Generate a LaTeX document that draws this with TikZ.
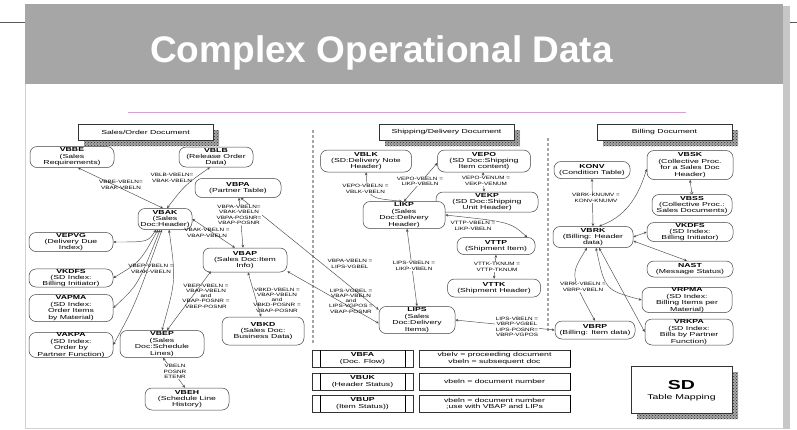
\documentclass[tikz,border=0pt]{standalone}
\usepackage{fontspec}
\setmainfont{Liberation Sans}
\newfontfamily\dfont[FakeStretch=1.5]{Liberation Sans}
\newfontfamily\lfont[FakeStretch=1.35]{Liberation Sans}
\usetikzlibrary{arrows.meta,patterns}
\definecolor{bandgray}{HTML}{A6A6A6}
\definecolor{pinkline}{RGB}{214,160,214}
\definecolor{conncol}{HTML}{4A4A4A}
\begin{document}
\begin{tikzpicture}[x=1pt,y=-1pt,
  tab/.style={draw=black!75, line width=0.5pt, rounded corners=7pt, fill=white, align=center, inner sep=0pt, font=\dfont\fontsize{5.8}{6.4}\selectfont},
  sz/.style 2 args={minimum width=#1pt, minimum height=#2pt},
  lbl/.style={align=center, inner sep=0.6pt, font=\lfont\fontsize{4.7}{5.3}\selectfont},
  wlbl/.style={lbl, fill=white},
  conn/.style={draw=conncol, line width=0.45pt, {Stealth[length=3pt,width=2.6pt]}-{Stealth[length=3pt,width=2.6pt]}},
  hdr/.style={draw=black!80, line width=0.5pt, fill=white, inner sep=0pt, minimum width=135pt, minimum height=16pt, font=\dfont\fontsize{5.8}{6.4}\selectfont},
  shad/.style={fill=black!35, postaction={pattern=crosshatch dots, pattern color=black!85}},
  sep/.style={draw=black!35, line width=2.2pt, dash pattern=on 3pt off 2pt},
  tbox/.style={draw=black!80, line width=0.5pt, align=center, inner sep=0pt, minimum height=17pt, font=\dfont\fontsize{5.8}{6.4}\selectfont},
]
\useasboundingbox (0,0) rectangle (797,429);
\fill[white] (0,0) rectangle (797,429);
% frame
\draw[black!65, line width=0.8pt] (0,22) -- (25,22);
\draw[black!65, line width=0.8pt] (783,22) -- (797,22);
\fill[black!22] (783,6) rectangle (790,429);
\draw[black!18, line width=1pt] (25,84) -- (25,428) -- (783,428);
\fill[bandgray] (25,4) rectangle (783,84);
\node[font=\bfseries\fontsize{37}{40}\selectfont, text=white, anchor=base, inner sep=0pt] (title) at (381.5,62) {Complex Operational Data};
\draw[pinkline, line width=0.8pt] (128,112) -- (686,112);

% section headers
\fill[shad] (84,130) rectangle (219,146);
\node[hdr] (salesH) at (145.5,132) {Sales/Order Document};
\fill[shad] (385,130) rectangle (520,146);
\node[hdr] (shipH) at (446.5,132) {Shipping/Delivery Document};
\fill[shad] (603,130) rectangle (738,146);
\node[hdr] (billH) at (664.5,132) {Billing Document};

% separators
\draw[sep] (313,130) -- (313,343);
\draw[sep] (548,138) -- (548,332);

% Sales nodes
\node[tab, sz={84}{21}] (vbbe) at (72,157) {\textbf{VBBE}\\(Sales\\Requirements)};
\node[tab, sz={74}{20}] (vblb) at (216,157) {\textbf{VBLB}\\(Release Order\\Data)};
\node[tab, sz={86}{19}] (vbpa) at (238,188) {\textbf{VBPA}\\(Partner Table)};
\node[tab, sz={54}{21}] (vbak) at (165,219) {\textbf{VBAK}\\(Sales\\Doc:Header)};
\node[tab, sz={84}{24}] (vbap) at (245,260) {\textbf{VBAP}\\(Sales Doc:Item\\Info)};
\node[tab, sz={84}{19}] (vepvg) at (71,242) {\textbf{VEPVG}\\(Delivery Due\\Index)};
\node[tab, sz={84}{18}] (vkdfs) at (71,278) {\textbf{VKDFS}\\(SD Index:\\Billing Initiator)};
\node[tab, sz={84}{27}] (vapma) at (71,308) {\textbf{VAPMA}\\(SD Index:\\Order Items\\by Material)};
\node[tab, sz={84}{25}] (vakpa) at (71,345) {\textbf{VAKPA}\\(SD Index:\\Order by\\Partner Function)};
\node[tab, sz={84}{27}] (vbep) at (162,344) {\textbf{VBEP}\\(Sales\\Doc:Schedule\\Lines)};
\node[tab, sz={84}{22}] (vbeh) at (187,399) {\textbf{VBEH}\\(Schedule Line\\History)};
\node[tab, sz={82}{28}] (vbkd) at (263,331) {\textbf{VBKD}\\(Sales Doc:\\Business Data)};

% Shipping nodes
\node[tab, sz={91}{22}] (vblk) at (366,161) {\textbf{VBLK}\\(SD:Delivery Note\\Header)};
\node[tab, sz={93}{22}] (vepo) at (484,161) {\textbf{VEPO}\\(SD Doc:Shipping\\Item content)};
\node[tab, sz={102}{20}] (vekp) at (487,202) {\textbf{VEKP}\\(SD Doc:Shipping\\Unit Header)};
\node[tab, sz={82}{27}] (likp) at (404,215) {\textbf{LIKP}\\(Sales\\Doc:Delivery\\Header)};
\node[tab, sz={78}{17}] (vttp) at (496,246) {\textbf{VTTP}\\(Shipment Item)};
\node[tab, sz={93}{18}] (vttk) at (494,288) {\textbf{VTTK}\\(Shipment Header)};
\node[tab, sz={76}{27}] (lips) at (417,320) {\textbf{LIPS}\\(Sales\\Doc:Delivery\\Items)};

% Billing nodes
\node[tab, sz={76}{17}] (konv) at (592,170) {\textbf{KONV}\\(Condition Table)};
\node[tab, sz={86}{29}] (vbsk) at (690,165) {\textbf{VBSK}\\(Collective Proc.\\for a Sales Doc\\Header)};
\node[tab, sz={80}{21}] (vbss) at (692,205) {\textbf{VBSS}\\(Collective Proc.:\\Sales Documents)};
\node[tab, sz={86}{19}] (vkdfsb) at (690,232) {\textbf{VKDFS}\\(SD Index:\\Billing Initiator)};
\node[tab, sz={86}{16}] (nast) at (690,269) {\textbf{NAST}\\(Message Status)};
\node[tab, sz={80}{21}] (vbrk) at (593,237) {\textbf{VBRK}\\(Billing: Header\\data)};
\node[tab, sz={80}{18}] (vbrp) at (595,330) {\textbf{VBRP}\\(Billing: Item data)};
\node[tab, sz={90}{25}] (vrpma) at (687,300) {\textbf{VRPMA}\\(SD Index:\\Billing Items per\\Material)};
\node[tab, sz={88}{26}] (vrkpa) at (689,332) {\textbf{VRKPA}\\(SD Index:\\Bills by Partner\\Function)};

% Sales connectors
\draw[conn] ([xshift=-2pt]vbak.north) -- ([xshift=6pt]vbbe.south);
\draw[conn] ([xshift=2pt]vbak.north) .. controls (185,185) .. ([xshift=-6pt]vblb.south);
\draw[conn] ([xshift=1pt]vbpa.south) -- ([xshift=-2pt]vbap.north);
\draw[conn] (vbak.east) -- ([xshift=-10pt]vbap.north);
\draw[conn] (vbpa.-75) .. controls (330,270) .. (lips.165);
\draw[conn] (vbap.-15) -- (lips.185);
\draw[conn] ([xshift=-9pt]vbak.south) .. controls (148,242) .. (vepvg.east);
\draw[conn] ([xshift=-7pt]vbak.south) .. controls (140,262) .. (vkdfs.east);
\draw[conn] ([xshift=-5pt]vbak.south) .. controls (138,285) .. (vapma.east);
\draw[conn] ([xshift=-3pt]vbak.south) .. controls (135,305) .. (vakpa.east);
\draw[conn] ([xshift=4pt]vbak.south) .. controls (176,280) .. (vbep.north);
\draw[conn] ([xshift=-34pt,yshift=1pt]vbap.south) -- ([xshift=5pt]vbep.north);
\draw[conn] ([xshift=1pt]vbep.south) -- ([xshift=-2pt]vbeh.north);
\draw[conn] ([xshift=3pt]vbap.south) -- ([xshift=-2pt]vbkd.north);

% Shipping connectors
\draw[conn] (vblk.south) .. controls (368,198) .. ([xshift=-2pt]likp.north);
\draw[conn] (likp.north) -- ([yshift=-2pt]vepo.west);
\draw[conn] ([xshift=-1pt]vepo.south) -- ([xshift=-3pt]vekp.north);
\draw[conn] (likp.east) .. controls (510,222) .. ([xshift=-8pt]vttp.north east);
\draw[conn] (vttp.south) -- (vttk.north);
\draw[conn] ([xshift=3pt]likp.south) -- (lips.north);
\draw[conn] (lips.east) -- (vbrp.west);

% Billing connectors
\draw[conn] (vbrk.north) -- (konv.south);
\draw[conn] ([xshift=6pt]vbrk.north) .. controls (630,215) and (640,190) .. ([yshift=-4pt]vbsk.west);
\draw[conn, {Stealth[length=3pt,width=2.6pt]}-{Circle[open,length=3pt]}] (vbsk.south) -- (vbss.north);
\draw[conn] (vbrk.east) -- (vkdfsb.west);
\draw[conn] ([yshift=-4pt]vbrk.east) -- ([xshift=-3pt]nast.north);
\draw[conn] ([xshift=-6pt]vbrk.south) .. controls (570,275) .. (vbrp.north);
\draw[conn] ([xshift=3pt]vbrk.south) .. controls (605,290) .. (vrpma.west);
\draw[conn] ([xshift=6pt]vbrk.south) -- (vrkpa.west);

% Labels
\node[lbl] (l1) at (121,185) {VBBE-VBELN=\\VBAK-VBELN};
\node[lbl] (l2) at (172,178) {VBLB-VBELN=\\VBAK-VBELN};
\node[wlbl] (l3) at (239,215) {VBPA-VBELN=\\VBAK-VBELN\\VBPA-POSNR=\\VBAP-POSNR};
\node[lbl] (l4) at (207,233) {VBAK-VBELN =\\VBAP-VBELN};
\node[lbl] (l5) at (151,269) {VBEP-VBELN =\\VBAK-VBELN};
\node[lbl] (l6) at (206,296) {VBEP-VBELN =\\VBAP-VBELN\\and\\VBAP-POSNR =\\VBEP-POSNR};
\node[wlbl] (l7) at (175,371.5) {VBELN\\POSNR\\ETENR};
\node[lbl] (l8) at (277,300) {VBKD-VBELN =\\VBAP-VBELN\\and\\VBKD-POSNR =\\VBAP-POSNR};
\node[lbl] (l9) at (350,264) {VBPA-VBELN =\\LIPS-VGBEL};
\node[lbl] (l10) at (351,301) {LIPS-VGBEL =\\VBAP-VBELN\\and\\LIPS-VGPOS =\\VBAP-POSNR};
\node[wlbl] (l11) at (365.5,189) {VEPO-VBELN =\\VBLK-VBELN};
\node[wlbl] (l12) at (420,181.5) {VEPO-VBELN =\\LIKP-VBELN};
\node[wlbl] (l13) at (486,181) {VEPO-VENUM =\\VEKP-VENUM};
\node[wlbl] (l14) at (473,226) {VTTP-VBELN =\\LIKP-VBELN};
\node[wlbl] (l15) at (497,267) {VTTK-TKNUM =\\VTTP-TKNUM};
\node[wlbl] (l16) at (414,266) {LIPS-VBELN =\\LIKP-VBELN};
\node[wlbl] (l17) at (517,327) {LIPS-VBELN =\\VBRP-VGBEL\\LIPS-POSNR=\\VBRP-VGPOS};
\node[wlbl] (l18) at (596,198) {VBRK-KNUMV =\\KONV-KNUMV};
\node[wlbl] (l19) at (583,287) {VBRK-VBELN =\\VBRP-VBELN};

% Bottom table
\node[tbox, minimum width=101pt] (vbfa) at (362.5,358.5) {\textbf{VBFA}\\(Doc. Flow)};
\node[tbox, minimum width=101pt] (vbuk) at (362.5,381.5) {\textbf{VBUK}\\(Header Status)};
\node[tbox, minimum width=101pt] (vbup) at (362.5,403.5) {\textbf{VBUP}\\(Item Status))};
\foreach \n in {vbfa,vbuk,vbup}{
  \draw[line width=1.2pt] ([xshift=9pt]\n.north west) -- ([xshift=9pt]\n.south west);
  \draw[line width=0.5pt] ([xshift=-8pt]\n.north east) -- ([xshift=-8pt]\n.south east);
}
\node[tbox, minimum width=151pt] (vbfat) at (494.5,358.5) {vbelv = proceeding document\\vbeln = subsequent doc};
\node[tbox, minimum width=151pt] (vbukt) at (494.5,381.5) {vbeln = document number};
\node[tbox, minimum width=151pt] (vbupt) at (494.5,403.5) {vbeln = document number\\;use with VBAP and LIPs};
\foreach \n in {vbfat,vbukt,vbupt}{
  \draw[line width=1.2pt] (\n.north east) -- (\n.south east);
}

% SD box
\fill[shad] (637,372) rectangle (738,419);
\node[draw=black!80, line width=0.5pt, fill=white, minimum width=101pt, minimum height=47pt, inner sep=0pt] (sdbox) at (681.5,389.5) {};
\node[font=\dfont\bfseries\fontsize{13}{14}\selectfont, inner sep=0pt] (sdt) at (681.5,385) {SD};
\node[font=\dfont\fontsize{7}{8}\selectfont, inner sep=0pt] (sds) at (681.5,398) {Table Mapping};
\end{tikzpicture}
\end{document}
